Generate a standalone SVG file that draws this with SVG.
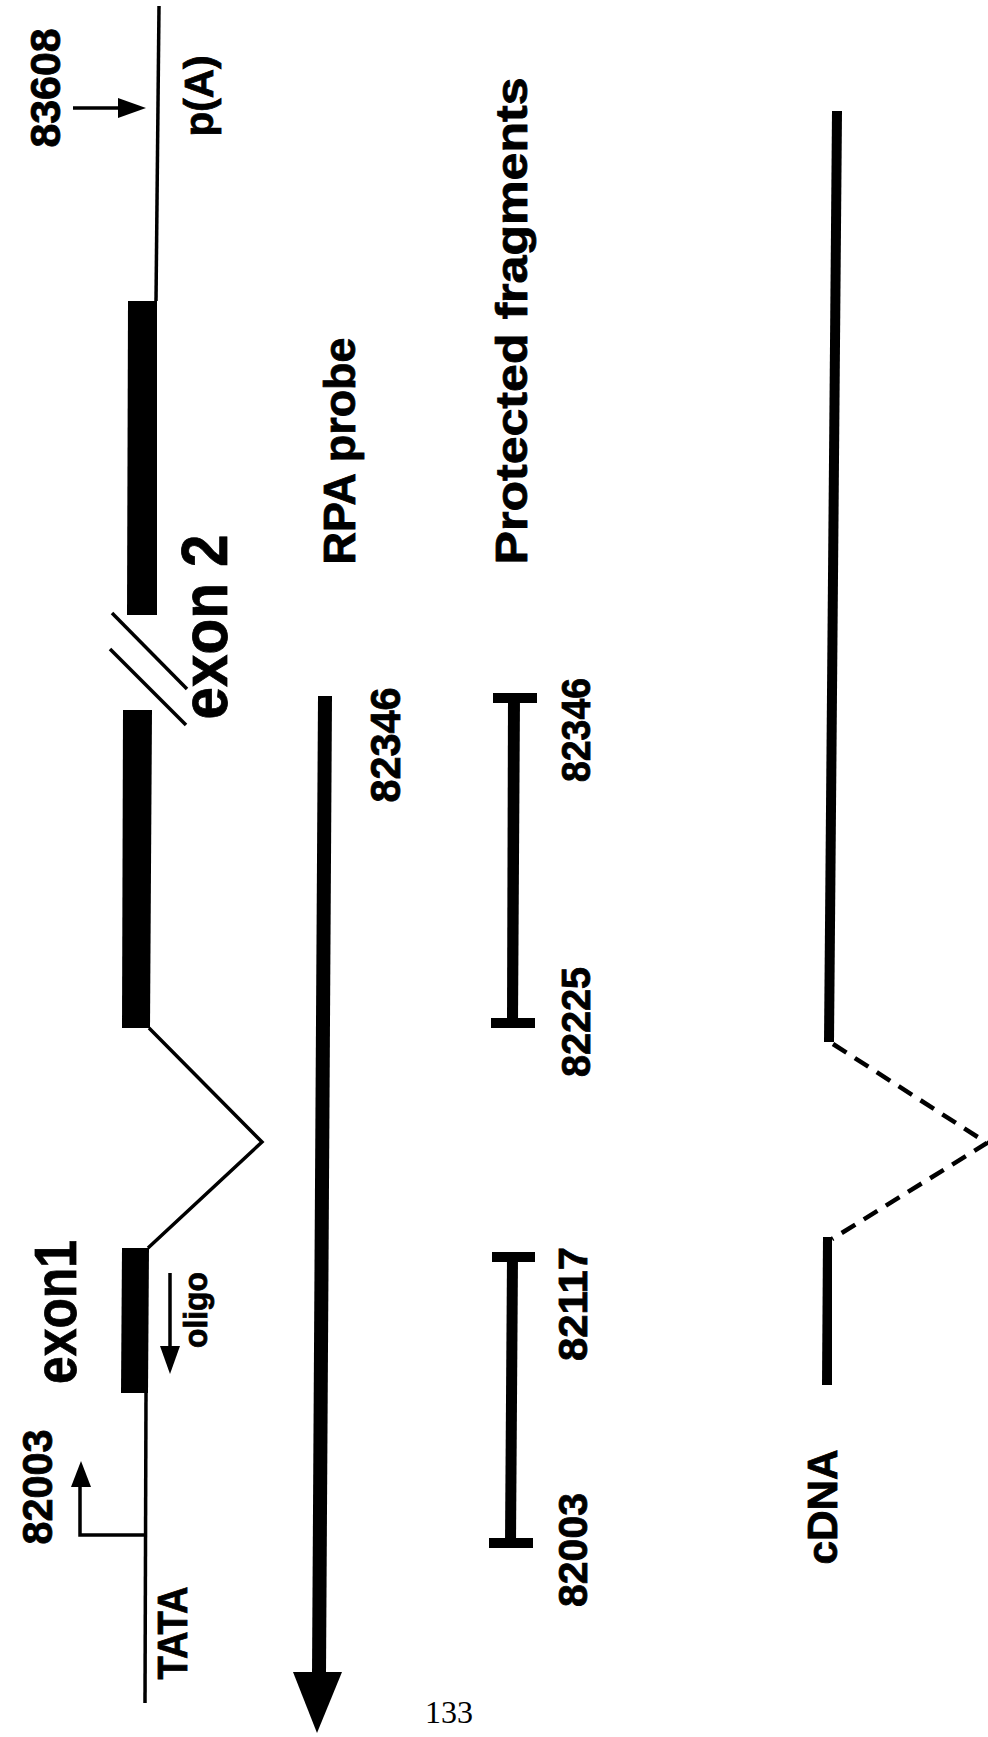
<svg xmlns="http://www.w3.org/2000/svg" width="988" height="1737" viewBox="0 0 988 1737">
<style>
.lbl{font-family:"Liberation Sans",Arial,sans-serif;font-weight:bold;fill:#000;stroke:#000;stroke-width:0.8;text-anchor:middle}
.thin{stroke:#000;stroke-width:3.5;fill:none}
.blk{fill:#000}
.cap{fill:#000}
</style>
<rect width="988" height="1737" fill="#fff"/>
<g id="gene">
<polyline class="thin" points="159,6 156,301"/>
<polygon class="blk" points="128,301 157,301 157,615 127,615"/>
<line class="thin" x1="112" y1="613" x2="187" y2="689"/>
<line class="thin" x1="110" y1="649" x2="186" y2="725"/>
<polygon class="blk" points="123,710 152,710 150,1028 122,1028"/>
<polyline class="thin" points="149,1028 262,1142 148,1248"/>
<polygon class="blk" points="122,1248 149,1248 148,1393 121,1393"/>
<polyline class="thin" points="146,1393 145,1703"/>
</g>
<g id="connectors">
<line class="thin" x1="73" y1="108" x2="122" y2="108"/>
<polygon class="blk" points="146,108 118,98 118,118"/>
<polyline class="thin" points="145,1535 80,1535 80,1484"/>
<polygon class="blk" points="81,1461 71,1487 91,1487"/>
<line class="thin" x1="170" y1="1273" x2="170" y2="1350"/>
<polygon class="blk" points="170,1374 160,1346 180,1346"/>
</g>
<g id="rpa-probe">
<polygon class="blk" points="318,696 332,696 326,1674 312,1674"/>
<polygon class="blk" points="293,1672 342,1672 317,1733"/>
</g>
<g id="protected-1">
<rect class="cap" x="493" y="693" width="44" height="10"/>
<polygon class="blk" points="508,697 520,697 518,1023 507,1023"/>
<rect class="cap" x="491" y="1018" width="44" height="10"/>
</g>
<g id="protected-2">
<rect class="cap" x="492" y="1252" width="43" height="10"/>
<polygon class="blk" points="507,1257 518,1257 516,1543 505,1543"/>
<rect class="cap" x="489" y="1538" width="44" height="10"/>
</g>
<g id="cdna">
<polygon class="blk" points="832,111 842,111 834,1042 824,1042"/>
<polyline points="833,1044 987,1143 832,1239" fill="none" stroke="#000" stroke-width="4.5" stroke-dasharray="16,10"/>
<polygon class="blk" points="823,1237 832,1237 832,1385 822,1385"/>
</g>
<g id="labels">
<text class="lbl" transform="translate(60,88) rotate(-90)" font-size="43" textLength="119" lengthAdjust="spacingAndGlyphs">83608</text>
<text class="lbl" transform="translate(213,96) rotate(-90)" font-size="40" textLength="81" lengthAdjust="spacingAndGlyphs">p(A)</text>
<text class="lbl" transform="translate(355,451) rotate(-90)" font-size="44" textLength="227" lengthAdjust="spacingAndGlyphs">RPA probe</text>
<text class="lbl" transform="translate(527,321) rotate(-90)" font-size="45" textLength="487" lengthAdjust="spacingAndGlyphs">Protected fragments</text>
<text class="lbl" transform="translate(227,627) rotate(-90)" font-size="64" textLength="185" lengthAdjust="spacingAndGlyphs">exon 2</text>
<text class="lbl" transform="translate(76,1312) rotate(-90)" font-size="60" textLength="144" lengthAdjust="spacingAndGlyphs">exon1</text>
<text class="lbl" transform="translate(52,1487) rotate(-90)" font-size="42" textLength="115" lengthAdjust="spacingAndGlyphs">82003</text>
<text class="lbl" transform="translate(187,1633) rotate(-90)" font-size="42" textLength="93" lengthAdjust="spacingAndGlyphs">TATA</text>
<text class="lbl" transform="translate(207,1310) rotate(-90)" font-size="34" textLength="76" lengthAdjust="spacingAndGlyphs">oligo</text>
<text class="lbl" transform="translate(400,745) rotate(-90)" font-size="42" textLength="115" lengthAdjust="spacingAndGlyphs">82346</text>
<text class="lbl" transform="translate(590,730) rotate(-90)" font-size="40" textLength="104" lengthAdjust="spacingAndGlyphs">82346</text>
<text class="lbl" transform="translate(590,1022) rotate(-90)" font-size="40" textLength="110" lengthAdjust="spacingAndGlyphs">82225</text>
<text class="lbl" transform="translate(587,1304) rotate(-90)" font-size="41" textLength="114" lengthAdjust="spacingAndGlyphs">82117</text>
<text class="lbl" transform="translate(587,1550) rotate(-90)" font-size="41" textLength="114" lengthAdjust="spacingAndGlyphs">82003</text>
<text class="lbl" transform="translate(837,1507) rotate(-90)" font-size="42" textLength="115" lengthAdjust="spacingAndGlyphs">cDNA</text>
<text x="425" y="1723" font-family="'Liberation Serif','Times New Roman',serif" font-size="32" fill="#000">133</text>
</g>
</svg>
